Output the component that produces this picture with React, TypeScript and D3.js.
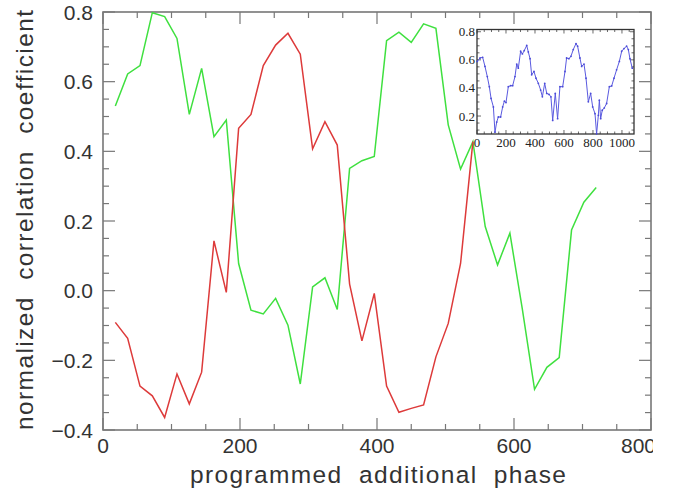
import React from "react";
import * as d3 from "d3";

const greenX = [18, 36, 54, 72, 90, 108, 126, 144, 162, 180, 198, 216, 234, 252, 270, 288, 306, 324, 342, 360, 378, 396, 414, 432, 450, 468, 486, 504, 522, 540, 558, 576, 594, 612, 630, 648, 666, 684, 702, 720];
const greenY = [0.53, 0.622, 0.646, 0.798, 0.787, 0.724, 0.506, 0.638, 0.442, 0.49, 0.078, -0.056, -0.067, -0.022, -0.099, -0.268, 0.011, 0.037, -0.054, 0.351, 0.373, 0.385, 0.718, 0.742, 0.713, 0.766, 0.753, 0.476, 0.349, 0.428, 0.184, 0.074, 0.165, -0.051, -0.283, -0.22, -0.192, 0.174, 0.254, 0.296];

const redX = [18, 36, 54, 72, 90, 108, 126, 144, 162, 180, 198, 216, 234, 252, 270, 288, 306, 324, 342, 360, 378, 396, 414, 432, 450, 468, 486, 504, 522, 540];
const redY = [-0.091, -0.137, -0.274, -0.302, -0.364, -0.239, -0.325, -0.234, 0.143, -0.005, 0.466, 0.506, 0.646, 0.705, 0.739, 0.679, 0.407, 0.485, 0.418, 0.019, -0.144, -0.008, -0.274, -0.349, -0.338, -0.328, -0.19, -0.094, 0.078, 0.428];

const insetX = [2, 21, 39, 55, 71, 85, 97, 113, 124, 136, 147, 163, 177, 189, 200, 216, 232, 246, 262, 274, 285, 301, 313, 326, 343, 354, 366, 377, 393, 407, 423, 439, 451, 467, 481, 497, 510, 522, 540, 556, 572, 591, 607, 618, 634, 648, 664, 683, 694, 710, 722, 738, 752, 768, 784, 798, 814, 825, 837, 844, 853, 864, 878, 894, 913, 929, 945, 963, 982, 998, 1014, 1032, 1044, 1055, 1071];
const insetY = [0.589, 0.613, 0.618, 0.553, 0.481, 0.409, 0.325, 0.265, 0.085, 0.157, 0.193, 0.193, 0.265, 0.306, 0.296, 0.409, 0.416, 0.416, 0.481, 0.57, 0.541, 0.661, 0.642, 0.666, 0.702, 0.656, 0.608, 0.493, 0.517, 0.469, 0.433, 0.385, 0.337, 0.433, 0.361, 0.354, 0.337, 0.169, 0.361, 0.181, 0.409, 0.409, 0.517, 0.613, 0.608, 0.625, 0.673, 0.716, 0.697, 0.613, 0.553, 0.57, 0.469, 0.301, 0.361, 0.265, 0.217, 0.073, 0.205, 0.313, 0.181, 0.241, 0.258, 0.289, 0.409, 0.414, 0.469, 0.529, 0.589, 0.661, 0.68, 0.697, 0.673, 0.608, 0.541];

const xTicks = [0, 200, 400, 600, 800];
const yTicks = [-0.4, -0.2, 0.0, 0.2, 0.4, 0.6, 0.8];
const insetXTicks = [0, 200, 400, 600, 800, 1000];
const insetYTicks = [0.2, 0.4, 0.6, 0.8];

const xTitle = "programmed  additional  phase";
const yTitle = "normalized  correlation  coefficient";

const W = 675, H = 493;
const M = { left: 103, right: 651, top: 12, bottom: 430 };
const I = { left: 477, right: 634, top: 29.5, bottom: 134 };

const fmtY = (v: number) => (v < 0 ? "\u2212" : "") + Math.abs(v).toFixed(1);

export default function App() {
  const x = d3.scaleLinear().domain([0, 800]).range([M.left, M.right]);
  const y = d3.scaleLinear().domain([-0.4, 0.8]).range([M.bottom, M.top]);
  const ix = d3.scaleLinear().domain([0, 1083]).range([I.left, I.right]);
  const iy = d3.scaleLinear().domain([0.072, 0.816]).range([I.bottom, I.top]);

  const line = d3.line<[number, number]>().x((d) => x(d[0])).y((d) => y(d[1]));
  const iline = d3.line<[number, number]>().x((d) => ix(d[0])).y((d) => iy(d[1]));

  const green = greenX.map((v, i) => [v, greenY[i]] as [number, number]);
  const red = redX.map((v, i) => [v, redY[i]] as [number, number]);
  const ins = insetX.map((v, i) => [v, insetY[i]] as [number, number]);

  const xMinor = d3.range(0, 801, 50);
  const yMinor = d3.range(-0.4, 0.8001, 0.05);
  const ixMinor = d3.range(0, 1083, 50);
  const iyMinor = d3.range(0.1, 0.8001, 0.05);

  const axisColor = "#777";
  const txt = "#333";
  const font = "'Liberation Sans', Arial, sans-serif";
  const lastX = xTicks[xTicks.length - 1];

  return (
    <svg width={W} height={H} style={{ position: "absolute", left: 0, top: 0, background: "#fff" }}>
      <defs>
        <clipPath id="pageClip">
          <rect x={0} y={0} width={653} height={H} />
        </clipPath>
      </defs>
      <rect x={0} y={0} width={W} height={H} fill="#fff" />
      <g stroke={axisColor} strokeWidth={1.2}>
        {xMinor.map((v) => {
          const major = xTicks.some((t) => Math.abs(t - v) < 1e-6);
          const L = major ? 12 : 6;
          return (
            <g key={"xm" + v}>
              <line x1={x(v)} x2={x(v)} y1={M.bottom} y2={M.bottom - L} />
              <line x1={x(v)} x2={x(v)} y1={M.top} y2={M.top + L} />
            </g>
          );
        })}
        {yMinor.map((v) => {
          const major = yTicks.some((t) => Math.abs(t - v) < 1e-6);
          const L = major ? 12 : 6;
          return (
            <g key={"ym" + v.toFixed(2)}>
              <line x1={M.left} x2={M.left + L} y1={y(v)} y2={y(v)} />
              <line x1={M.right} x2={M.right - L} y1={y(v)} y2={y(v)} />
            </g>
          );
        })}
      </g>
      <rect x={M.left} y={M.top} width={M.right - M.left} height={M.bottom - M.top} fill="none" stroke={axisColor} strokeWidth={1.6} />

      <path d={line(green) || ""} fill="none" stroke="#3fe03f" strokeWidth={1.5} />
      <path d={line(red) || ""} fill="none" stroke="#dd3a3a" strokeWidth={1.5} />

      <g fontFamily={font} fontSize={21} fill={txt} clipPath="url(#pageClip)">
        {xTicks.map((v) => (
          <text key={"xt" + v} x={v === lastX ? x(v) + 5 : x(v)} y={453} textAnchor={v === lastX ? "end" : "middle"}>{v}</text>
        ))}
        {yTicks.map((v) => (
          <text key={"yt" + v} x={93} y={y(v) + 7.5} textAnchor="end">{fmtY(v)}</text>
        ))}
      </g>
      <text x={378} y={483} textAnchor="middle" fontFamily={font} fontSize={24.5} fill={txt} textLength={376} lengthAdjust="spacing" style={{ whiteSpace: "pre" }}>{xTitle}</text>
      <text transform={`translate(33, 220) rotate(-90)`} textAnchor="middle" fontFamily={font} fontSize={24.5} fill={txt} textLength={420} lengthAdjust="spacing" style={{ whiteSpace: "pre" }}>{yTitle}</text>

      <rect x={I.left} y={I.top} width={I.right - I.left} height={I.bottom - I.top} fill="#fff" />
      <g stroke="#444" strokeWidth={0.8}>
        {ixMinor.map((v) => {
          const major = insetXTicks.includes(v);
          const L = major ? 4 : 2.5;
          return (
            <g key={"ixm" + v}>
              <line x1={ix(v)} x2={ix(v)} y1={I.bottom} y2={I.bottom - L} />
              <line x1={ix(v)} x2={ix(v)} y1={I.top} y2={I.top + L} />
            </g>
          );
        })}
        {iyMinor.map((v) => {
          const major = insetYTicks.some((t) => Math.abs(t - v) < 1e-6);
          const L = major ? 4 : 2.5;
          return (
            <g key={"iym" + v.toFixed(2)}>
              <line x1={I.left} x2={I.left + L} y1={iy(v)} y2={iy(v)} />
              <line x1={I.right} x2={I.right - L} y1={iy(v)} y2={iy(v)} />
            </g>
          );
        })}
      </g>
      <rect x={I.left} y={I.top} width={I.right - I.left} height={I.bottom - I.top} fill="none" stroke="#333" strokeWidth={1.3} />
      <path d={iline(ins) || ""} fill="none" stroke="#5a5ae0" strokeWidth={1} />
      <g fill="#4a4ad8">
        {ins.map((d, i) => (
          <circle key={"ic" + i} cx={ix(d[0])} cy={iy(d[1])} r={0.9} />
        ))}
      </g>
      <g fontFamily="'Liberation Serif', 'Times New Roman', serif" fontSize={13} fill="#222">
        {insetYTicks.map((v) => (
          <text key={"iyt" + v} x={I.left - 2} y={iy(v) + 4.5} textAnchor="end">{v.toFixed(1)}</text>
        ))}
        {insetXTicks.map((v) => (
          <text key={"ixt" + v} x={ix(v)} y={147} textAnchor="middle">{v}</text>
        ))}
      </g>
    </svg>
  );
}
